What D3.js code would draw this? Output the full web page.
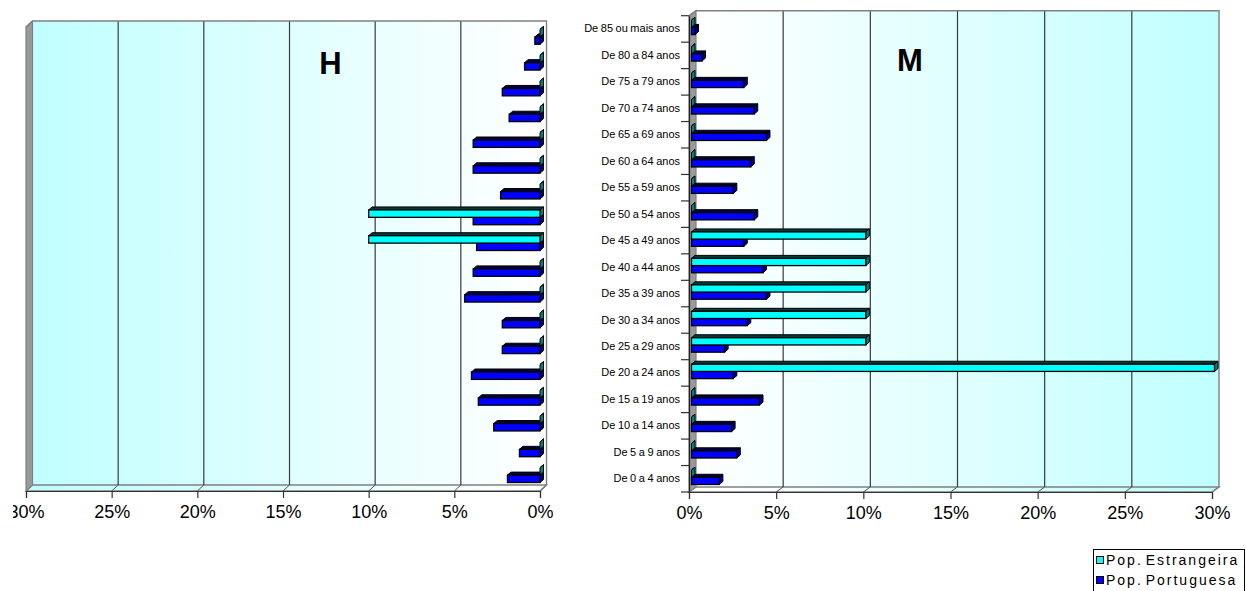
<!DOCTYPE html>
<html>
<head>
<meta charset="utf-8">
<script src="https://cdn.jsdelivr.net/npm/d3@7"></script>
<style>
  html, body { margin: 0; padding: 0; background: #ffffff; }
  svg { display: block; font-family: Arial, "Liberation Sans", sans-serif; }
</style>
</head>
<body>
<svg id="chart" width="1246" height="591"></svg>
<script>
// Age groups, youngest first
const categories = [
  "De 0 a 4 anos", "De 5 a 9 anos", "De 10 a 14 anos", "De 15 a 19 anos",
  "De 20 a 24 anos", "De 25 a 29 anos", "De 30 a 34 anos", "De 35 a 39 anos",
  "De 40 a 44 anos", "De 45 a 49 anos", "De 50 a 54 anos", "De 55 a 59 anos",
  "De 60 a 64 anos", "De 65 a 69 anos", "De 70 a 74 anos", "De 75 a 79 anos",
  "De 80 a 84 anos", "De 85 ou mais anos"
];
const seriesNames = ["Pop. Estrangeira", "Pop. Portuguesa"];
const valueTicks = [0, 5, 10, 15, 20, 25, 30];

// Homens (%)
const homensEstrangeira = [0, 0, 0, 0, 0, 0, 0, 0, 0, 10, 10, 0, 0, 0, 0, 0, 0, 0];
const homensPortuguesa  = [1.9, 1.2, 2.7, 3.6, 4.0, 2.2, 2.2, 4.4, 3.9, 3.7, 3.9, 2.3, 3.9, 3.9, 1.8, 2.2, 0.9, 0.3];

// Mulheres (%)
const mulheresEstrangeira = [0, 0, 0, 0, 30, 10, 10, 10, 10, 10, 0, 0, 0, 0, 0, 0, 0, 0];
const mulheresPortuguesa  = [1.6, 2.6, 2.3, 3.9, 2.4, 1.9, 3.2, 4.3, 4.1, 3.0, 3.6, 2.4, 3.4, 4.3, 3.6, 3.0, 0.6, 0.2];

const svg = d3.select("#chart");
const defs = svg.append("defs");

const colors = {
  est:  { front: "#00ffff", top: "#003c3c", side: "#008080" },
  port: { front: "#0000ff", top: "#00003c", side: "#000080" }
};

function wallGradient(id, xFrom, xTo) {
  const g = defs.append("linearGradient")
    .attr("id", id).attr("gradientUnits", "userSpaceOnUse")
    .attr("x1", xFrom).attr("y1", 0).attr("x2", xTo).attr("y2", 0);
  g.append("stop").attr("offset", 0).attr("stop-color", "#ffffff");
  g.append("stop").attr("offset", 1).attr("stop-color", "#c0ffff");
}

// One 3D box: front face from xa to xb, visible side face at the right end
function bar3d(g, xa, xb, yT, h, c, bdx, bdy) {
  const x1 = Math.min(xa, xb), x2 = Math.max(xa, xb);
  g.append("polygon")
    .attr("points", [[x1, yT], [x2, yT], [x2 + bdx, yT - bdy], [x1 + bdx, yT - bdy]].join(" "))
    .attr("fill", c.top).attr("stroke", "#000").attr("stroke-width", 1).attr("stroke-linejoin", "round");
  g.append("polygon")
    .attr("points", [[x2, yT], [x2 + bdx, yT - bdy], [x2 + bdx, yT + h - bdy], [x2, yT + h]].join(" "))
    .attr("fill", c.side).attr("stroke", "#000").attr("stroke-width", 1).attr("stroke-linejoin", "round");
  if (x2 - x1 > 0) {
    g.append("rect")
      .attr("x", x1).attr("y", yT).attr("width", x2 - x1).attr("height", h)
      .attr("fill", c.front).attr("stroke", "#000").attr("stroke-width", 1.3);
  }
}

function drawPanel(cfg) {
  const g = svg.append("g");
  if (cfg.clip) {
    defs.append("clipPath").attr("id", cfg.id + "-clip")
      .append("rect").attr("x", cfg.clip[0]).attr("y", 0)
      .attr("width", cfg.clip[1] - cfg.clip[0]).attr("height", 591);
    g.attr("clip-path", `url(#${cfg.id}-clip)`);
  }

  const x = d3.scaleLinear().domain([0, 30]).range([cfg.x0, cfg.x30]);
  const y = d3.scaleBand().domain(categories.slice().reverse()).range([cfg.yTop, cfg.yBottom]);
  const dx = cfg.dx, dy = cfg.dy;
  const xl = Math.min(cfg.x0, cfg.x30), xr = Math.max(cfg.x0, cfg.x30);

  const gradId = cfg.id + "-grad";
  wallGradient(gradId, x(0) + dx, x(30) + dx);

  // back wall
  g.append("rect")
    .attr("x", xl + dx).attr("y", cfg.yTop + dy)
    .attr("width", xr - xl).attr("height", cfg.yBottom - cfg.yTop)
    .attr("fill", `url(#${gradId})`);

  // floor
  g.append("polygon")
    .attr("points", [[xl, cfg.yBottom], [xr, cfg.yBottom], [xr + dx, cfg.yBottom + dy], [xl + dx, cfg.yBottom + dy]].join(" "))
    .attr("fill", `url(#${gradId})`).attr("stroke", "#808080").attr("stroke-width", 1.3);

  // side wall
  g.append("polygon")
    .attr("points", [[xl, cfg.yTop], [xl + dx, cfg.yTop + dy], [xl + dx, cfg.yBottom + dy], [xl, cfg.yBottom]].join(" "))
    .attr("fill", "#9a9a9a").attr("stroke", "#808080").attr("stroke-width", 1.2);

  // gridlines on wall and floor
  const inner = valueTicks.filter(t => t > 0 && t < 30);
  g.selectAll(null).data(inner).enter().append("line")
    .attr("x1", d => x(d) + dx).attr("x2", d => x(d) + dx)
    .attr("y1", cfg.yTop + dy).attr("y2", cfg.yBottom + dy)
    .attr("stroke", "#3a3a3a").attr("stroke-width", 1.2);
  g.selectAll(null).data(inner).enter().append("line")
    .attr("x1", d => x(d)).attr("x2", d => x(d) + dx)
    .attr("y1", cfg.yBottom).attr("y2", cfg.yBottom + dy)
    .attr("stroke", "#555").attr("stroke-width", 1);

  // outer wall edges
  g.append("path")
    .attr("d", `M${xl},${cfg.yTop} L${xl + dx},${cfg.yTop + dy} L${xr + dx},${cfg.yTop + dy} L${xr + dx},${cfg.yBottom + dy} L${xr},${cfg.yBottom}`)
    .attr("fill", "none").attr("stroke", "#808080").attr("stroke-width", 1.4);

  // value axis along the front edge of the floor
  const xAxis = d3.axisBottom(x).tickValues(valueTicks)
    .tickFormat(d => d + "%").tickSizeOuter(0).tickSize(7).tickPadding(cfg.tickPad);
  const ax = g.append("g").attr("transform", `translate(0,${cfg.yBottom})`).call(xAxis);
  ax.select(".domain").attr("stroke", "#333").attr("stroke-width", 1.2);
  ax.selectAll(".tick line").attr("stroke", "#333").attr("stroke-width", 1.2);
  ax.selectAll(".tick text").attr("font-size", 18).attr("fill", "#000")
    .attr("font-family", "Arial, 'Liberation Sans', sans-serif");

  // category axis
  if (cfg.showCats) {
    const yAxis = d3.axisLeft(y).tickSize(0).tickPadding(9);
    const ay = g.append("g").attr("transform", `translate(${cfg.x0},0)`).call(yAxis);
    ay.select(".domain").attr("stroke", "#222").attr("stroke-width", 1.2);
    ay.selectAll(".tick text").attr("font-size", 11).attr("fill", "#000")
      .attr("word-spacing", "-0.5px")
      .attr("font-family", "Arial, 'Liberation Sans', sans-serif");
    const bounds = categories.map(c => y(c)).concat([cfg.yBottom]);
    g.selectAll(null).data(bounds).enter().append("line")
      .attr("x1", cfg.x0 - 8).attr("x2", cfg.x0)
      .attr("y1", d => d).attr("y2", d => d)
      .attr("stroke", "#333").attr("stroke-width", 1.2);
  }

  // bars: Portuguesa before Estrangeira in each group
  const barsG = g.append("g");
  const bh = cfg.barH;
  categories.forEach((cat, i) => {
    const yMid = y(cat) + y.bandwidth() / 2 + cfg.oy;
    const draw = (v, yT, c) => {
      const xa = x(0) + cfg.ox, xb = x(v) + cfg.ox;
      bar3d(barsG, xa, xb, yT, bh, c, cfg.bdx, cfg.bdy);
    };
    draw(cfg.port[i], yMid, colors.port);
    draw(cfg.est[i], yMid - bh, colors.est);
  });

  g.append("text")
    .attr("x", cfg.titleX).attr("y", cfg.titleY)
    .attr("text-anchor", "middle").attr("dominant-baseline", "central")
    .attr("font-size", 31).attr("font-weight", "bold").attr("fill", "#000")
    .text(cfg.title);
}

// Homens: value axis reversed, growing to the left
drawPanel({
  id: "h", title: "H", titleX: 330.5, titleY: 63,
  x0: 540, x30: 26, yTop: 27, yBottom: 491, dx: 6.5, dy: -6,
  ox: 0, oy: -3, barH: 7.4, bdx: 3.5, bdy: 3,
  est: homensEstrangeira, port: homensPortuguesa,
  showCats: false, tickPad: 7, clip: [13, 620]
});

// Mulheres
drawPanel({
  id: "m", title: "M", titleX: 910, titleY: 60,
  x0: 689, x30: 1212, yTop: 15.7, yBottom: 492, dx: 7, dy: -5,
  ox: 2.5, oy: -1.5, barH: 7.2, bdx: 3.5, bdy: 3,
  est: mulheresEstrangeira, port: mulheresPortuguesa,
  showCats: true, tickPad: 7
});

// legend
const lg = svg.append("g");
lg.append("rect").attr("x", 1093.5).attr("y", 549.5).attr("width", 151).attr("height", 50)
  .attr("fill", "#fff").attr("stroke", "#000").attr("stroke-width", 1);
const legendColors = [colors.est.front, colors.port.front];
seriesNames.forEach((name, i) => {
  const cy = 560 + i * 20;
  lg.append("rect").attr("x", 1096.5).attr("y", cy - 3.5).attr("width", 7).attr("height", 7)
    .attr("fill", legendColors[i]).attr("stroke", "#000").attr("stroke-width", 1);
  lg.append("text").attr("x", 1106).attr("y", cy)
    .attr("dominant-baseline", "central").attr("font-size", 14)
    .attr("letter-spacing", "2px").attr("word-spacing", "-3px").attr("fill", "#000")
    .text(name);
});
</script>
</body>
</html>
